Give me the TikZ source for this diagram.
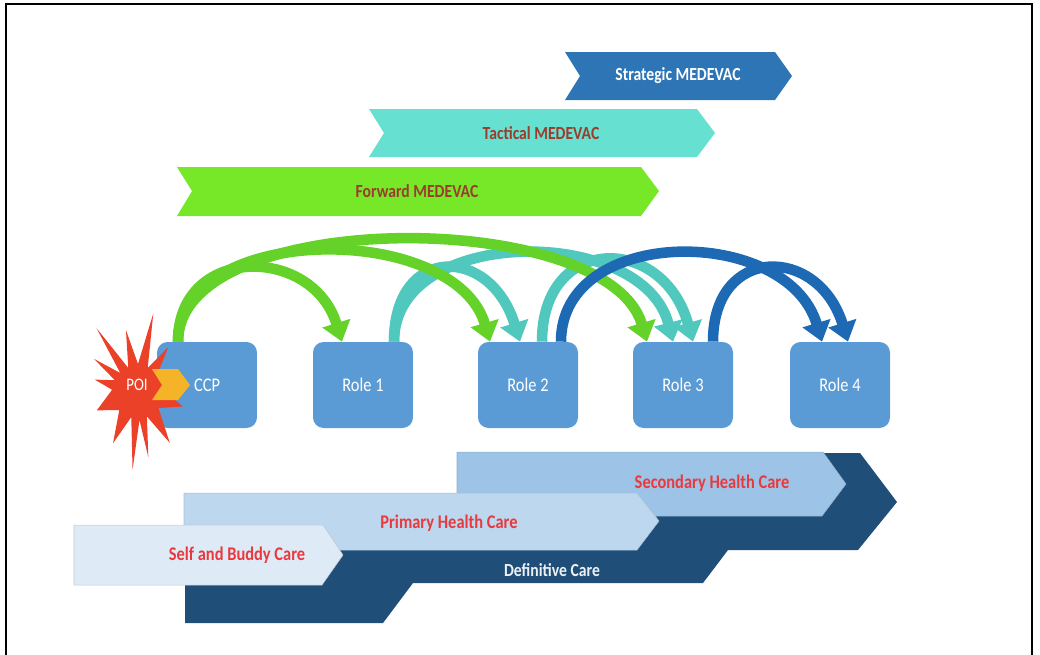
\documentclass[tikz,border=0pt]{standalone}
\usepackage{fontspec}
\setmainfont{Carlito}[FakeStretch=0.85]
\usetikzlibrary{arrows.meta,calc}

\definecolor{boxblue}{RGB}{91,155,213}
\definecolor{stratblue}{RGB}{46,117,182}
\definecolor{tactcyan}{RGB}{102,224,208}
\definecolor{fwdgreen}{RGB}{118,232,40}
\definecolor{evacred}{RGB}{155,60,45}
\definecolor{carered}{RGB}{232,58,62}
\definecolor{selfblue}{RGB}{222,235,247}
\definecolor{primblue}{RGB}{189,215,238}
\definecolor{secblue}{RGB}{157,195,230}
\definecolor{defblue}{RGB}{31,78,121}
\definecolor{poired}{RGB}{235,65,40}
\definecolor{poiyellow}{RGB}{245,180,40}
\definecolor{arrgreen}{RGB}{100,210,40}
\definecolor{arrteal}{RGB}{80,200,190}
\definecolor{arrblue}{RGB}{30,105,180}

\begin{document}
\begin{tikzpicture}[x=0.02cm, y=-0.02cm,
    rolebox/.style={fill=boxblue, rounded corners=6pt, minimum width=2cm,
        minimum height=1.72cm, text=white, font=\fontsize{11}{12}\selectfont},
    evac/.style={font=\bfseries\fontsize{10.5}{12}\selectfont, text=evacred},
    care/.style={font=\bfseries\fontsize{11}{12}\selectfont, text=carered},
    hop/.style={line width=6pt, -{Triangle[width=16pt,length=11pt]}},
    fwdhop/.style={hop, draw=arrgreen},
    tacthop/.style={hop, draw=arrteal},
    strathop/.style={hop, draw=arrblue}]

    %% Background
    \useasboundingbox (0,0) rectangle (1040,654);
    \draw[line width=1.2pt] (6,4) rectangle (1032,670);

    % MEDEVAC bands
    \fill[stratblue] (565,52) -- (775,52) -- (792,76) -- (775,100) -- (565,100) -- (580,76) -- cycle;
    \fill[tactcyan] (369,109) -- (697,109) -- (715,133) -- (697,157) -- (369,157) -- (384,133) -- cycle;
    \fill[fwdgreen] (177,167) -- (641,167) -- (659,191) -- (641,216) -- (177,216) -- (192,191) -- cycle;

    \node[evac, text=white] (strat) at (678,76) {Strategic MEDEVAC};
    \node[evac] (tact) at (541,133) {Tactical MEDEVAC};
    \node[evac] (fwd) at (417,191) {Forward MEDEVAC};

    % Care bands
    \fill[defblue] (185,623) -- (383,623) -- (413,583) -- (703,583) -- (728,550)
        -- (858,550) -- (897,502) -- (860,453) -- (600,453) -- (600,520)
        -- (300,520) -- (300,560) -- (185,560) -- cycle;
    \filldraw[fill=secblue, draw=secblue!90!black, line width=0.3pt]
        (457,452) -- (823,452) -- (846,484) -- (822,516) -- (457,516) -- cycle;
    \filldraw[fill=primblue, draw=primblue!90!black, line width=0.3pt]
        (184,493) -- (637,493) -- (659,521) -- (637,550) -- (184,550) -- cycle;
    \filldraw[fill=selfblue, draw=selfblue!85!black, line width=0.3pt]
        (74,525) -- (323,525) -- (343,555) -- (322,585) -- (74,585) -- cycle;

    \node[care] (sec) at (712,483) {Secondary Health Care};
    \node[care] (prim) at (449,523) {Primary Health Care};
    \node[care] (self) at (237,555) {Self and Buddy Care};
    \node[font=\bfseries\fontsize{10.5}{12}\selectfont, text=white!92!defblue] (defc) at (552,570) {Definitive Care};

    % Roles
    \node[rolebox] (ccp) at (207,385) {CCP};
    \node[rolebox] (r1) at (363,385) {Role 1};
    \node[rolebox] (r2) at (528,385) {Role 2};
    \node[rolebox] (r3) at (683,385) {Role 3};
    \node[rolebox] (r4) at (840,385) {Role 4};

    % Hops
    \draw[tacthop] ($(r1.north)+(31,0)$) .. controls +(0,-117) and +(-30,-117) .. ($(r3.north)+(-10,0)$);
    \draw[tacthop] ($(r2.north)+(14,0)$) .. controls +(0,-108) and +(-30,-108) .. ($(r3.north)+(10,0)$);
    \draw[tacthop] ($(r1.north)+(31,0)$) .. controls +(0,-97) and +(-30,-97) .. ($(r2.north)+(-8,0)$);
    \draw[fwdhop] ($(ccp.north)+(-29,0)$) .. controls +(0,-135) and +(-40,-135) .. ($(r3.north)+(-36,0)$);
    \draw[fwdhop] ($(ccp.north)+(-29,0)$) .. controls +(0,-120) and +(-35,-120) .. ($(r2.north)+(-38,0)$);
    \draw[fwdhop] ($(ccp.north)+(-29,0)$) .. controls +(0,-97) and +(-30,-97) .. ($(r1.north)+(-21,0)$);
    \draw[strathop] ($(r2.north)+(33,0)$) .. controls +(0,-117) and +(-35,-117) .. ($(r4.north)+(-18,0)$);
    \draw[strathop] ($(r3.north)+(30,0)$) .. controls +(0,-97) and +(-30,-97) .. ($(r4.north)+(8,0)$);

    % Point of injury
    \begin{scope}[shift={(138,392)}]
    \fill[poired] (-79:80) -- (-90:28) -- (-101:63) -- (-112:26) -- (-123:76)
        -- (-133:26) -- (-143:55) -- (-153:26) -- (-164:45) -- (-175:26)
        -- (156:45) -- (136:26) -- (116:57) -- (105:26) -- (94:78) -- (87:28)
        -- (81:66) -- (70:26) -- (58:60) -- (38:26) -- (18:47) -- (-5:26)
        -- (-27:45) -- (-42:26) -- (-56:54) -- (-68:26) -- cycle;
    \end{scope}
    \fill[poiyellow] (152,369) -- (178,369) -- (190,385) -- (178,400) -- (152,400) -- (162,385) -- cycle;
    \node[text=white, font=\fontsize{10}{12}\selectfont] (poi) at (137,385) {POI};

\end{tikzpicture}
\end{document}
